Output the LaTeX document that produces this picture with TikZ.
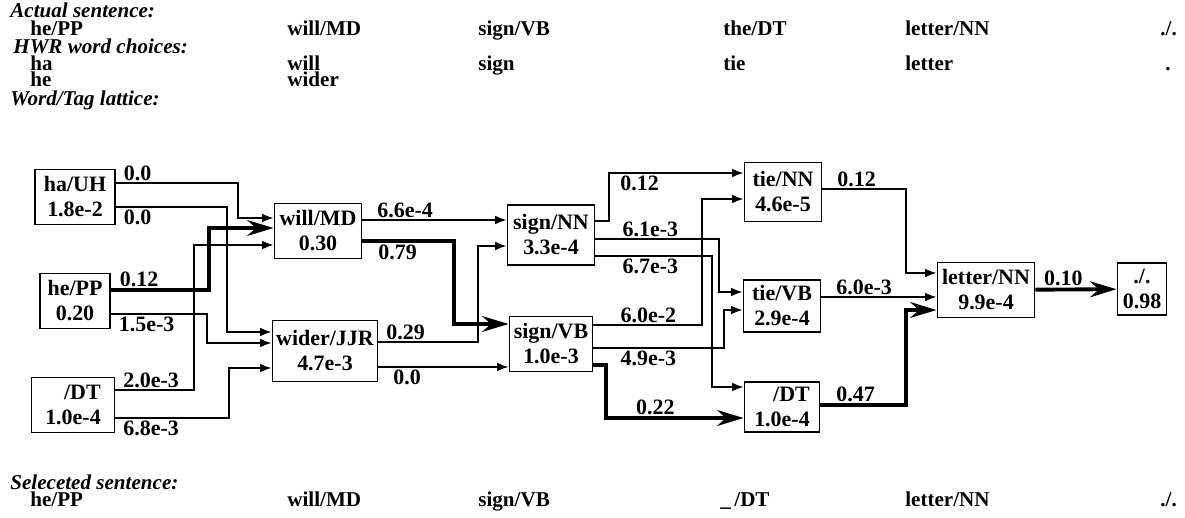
\documentclass[tikz,border=0pt]{standalone}
\usepackage{fontspec}
\setmainfont{Liberation Serif}
\usetikzlibrary{arrows.meta,calc}

\begin{document}
\begin{tikzpicture}[
    x=0.02cm, y=-0.02cm,
    font=\fontsize{12.5}{14.2}\selectfont\bfseries,
    tagbox/.style={
        draw,
        line width=1.1pt,
        minimum height=1.1cm,
        inner sep=2pt,
        align=center
    },
    pathedge/.style={-{Latex[length=6.5pt,width=5pt]}, line width=1pt},
    bestedge/.style={-{Stealth[length=15pt,width=9pt,inset=5pt]}, line width=2.2pt},
    prob/.style={inner sep=1pt, xshift=3pt},
    head/.style={anchor=base west, inner sep=0pt, font=\fontsize{12}{13}\selectfont\bfseries\itshape},
    word/.style={anchor=base west, inner sep=0pt, font=\fontsize{12}{13}\selectfont\bfseries}
]
\useasboundingbox (0,0) rectangle (1185,517);

% actual sentence and handwriting choices
\node[head] (actHead) at (10,18) {Actual sentence:};
\node[word] (act1) at (30,36) {he/PP};
\node[word] (act2) at (287,36) {will/MD};
\node[word] (act3) at (478,36) {sign/VB};
\node[word] (act4) at (723,36) {the/DT};
\node[word] (act5) at (905,36) {letter/NN};
\node[word] (act6) at (1160,36) {./.};

\node[head] (hwrHead) at (13,54) {HWR word choices:};
\node[word] (hwrA1) at (30,71) {ha};
\node[word] (hwrA2) at (287,71) {will};
\node[word] (hwrA3) at (478,71) {sign};
\node[word] (hwrA4) at (723,71) {tie};
\node[word] (hwrA5) at (905,71) {letter};
\node[word] (hwrA6) at (1165,71) {.};
\node[word] (hwrB1) at (30,87) {he};
\node[word] (hwrB2) at (287,87) {wider};

\node[head] (latHead) at (10,105) {Word/Tag lattice:};

% lattice nodes
\node[tagbox, minimum width=1.6cm] (haUH) at (75,197) {ha/UH\\1.8e-2};
\node[tagbox, minimum width=1.4cm] (hePP) at (75,301) {he/PP\\0.20};
\node[tagbox, minimum width=1.66cm, align=right] (dtA) at (73,405) {/DT\\1.0e-4};
\node[tagbox, minimum width=1.74cm] (willMD) at (318,231) {will/MD\\0.30};
\node[tagbox, minimum width=2.1cm, minimum height=1.22cm] (widerJJR) at (325,351) {wider/JJR\\4.7e-3};
\node[tagbox, minimum width=1.74cm, minimum height=1.2cm] (signNN) at (551,235) {sign/NN\\3.3e-4};
\node[tagbox, minimum width=1.66cm] (signVB) at (551,344) {sign/VB\\1.0e-3};
\node[tagbox, minimum width=1.54cm, minimum height=1.18cm] (tieNN) at (783,192) {tie/NN\\4.6e-5};
\node[tagbox, minimum width=1.54cm, minimum height=1.04cm] (tieVB) at (782,306) {tie/VB\\2.9e-4};
\node[tagbox, minimum width=1.5cm, minimum height=1.0cm, align=right] (dtB) at (782,407) {/DT\\1.0e-4};
\node[tagbox, minimum width=1.94cm, minimum height=1.1cm] (letterNN) at (986,290) {letter/NN\\9.9e-4};
\node[tagbox, minimum width=0.98cm, minimum height=1.04cm] (stop) at (1142,289) {./.\\0.98};

% transitions, first column
\draw[pathedge] ($(haUH.east)+(0,-14)$) node[prob, above right] {0.0}
    -- ++(122,0) |- ($(willMD.west)+(0,-13)$);
\draw[pathedge] ($(haUH.east)+(0,10)$) node[prob, below right] {0.0}
    -- ++(111,0) |- ($(widerJJR.west)+(0,-19)$);
\draw[bestedge] ($(hePP.east)+(0,-11)$) node[prob, above right] {0.12}
    -- ++(98,0) |- ($(willMD.west)+(0,-3)$);
\draw[pathedge] ($(hePP.east)+(0,13)$) node[prob, below right] {1.5e-3}
    -- ++(96,0) |- ($(widerJJR.west)+(0,-8)$);
\draw[pathedge] ($(dtA.east)+(0,-15)$) node[prob, above right] {2.0e-3}
    -- ++(78.5,0) |- ($(willMD.west)+(0,14)$);
\draw[pathedge] ($(dtA.east)+(0,13)$) node[prob, below right] {6.8e-3}
    -- ++(113.5,0) |- ($(widerJJR.west)+(0,17)$);

% second column
\draw[pathedge] ($(willMD.east)+(0,-11)$) node[prob, above right, xshift=4pt] {6.6e-4}
    -- ($(signNN.west)+(0,-15)$);
\draw[bestedge] ($(willMD.east)+(0,10)$) node[prob, below right, xshift=4pt] {0.79}
    -- ++(91.5,0) |- ($(signVB.west)+(0,-20)$);
\draw[pathedge] ($(widerJJR.east)+(0,-9)$) node[prob, above right] {0.29}
    -- ++(99.5,0) |- ($(signNN.west)+(0,11)$);
\draw[pathedge] ($(widerJJR.east)+(0,16)$) node[prob, below right, xshift=4pt] {0.0}
    -- ($(signVB.west)+(0,23)$);

% third column
\draw[pathedge] ($(signNN.east)+(0,-14)$) -- ++(13.5,0)
    |- node[prob, pos=0.5, below right, xshift=2pt] {0.12} ($(tieNN.west)+(0,-19)$);
\draw[pathedge] ($(signNN.east)+(0,4)$) node[prob, above right, xshift=11pt] {6.1e-3}
    -- ++(123.5,0) |- ($(tieVB.west)+(0,-14)$);
\draw[pathedge] ($(signNN.east)+(0,21)$) node[prob, below right, xshift=11pt] {6.7e-3}
    -- ++(116.5,0) |- ($(dtB.west)+(0,-20)$);
\draw[pathedge] ($(signVB.east)+(0,-19)$) node[prob, above right, xshift=11pt] {6.0e-2}
    -- ++(108.5,0) |- ($(tieNN.west)+(0,7)$);
\draw[pathedge] ($(signVB.east)+(0,4)$) node[prob, below right, xshift=11pt] {4.9e-3}
    -- ++(130.5,0) |- ($(tieVB.west)+(0,4)$);
\draw[bestedge] ($(signVB.east)+(0,21)$) -- ++(12.5,0)
    |- node[prob, pos=0.66, above] {0.22} ($(dtB.west)+(0,11)$);

% last column
\draw[pathedge] ($(tieNN.east)+(0,-3)$) node[prob, above right, xshift=4pt] {0.12}
    -- ++(83.5,0) |- ($(letterNN.west)+(0,-17)$);
\draw[pathedge] ($(tieVB.east)+(0,-9)$) node[prob, above right, xshift=4pt] {6.0e-3}
    -- ($(letterNN.west)+(0,7)$);
\draw[bestedge] ($(dtB.east)+(0,-2)$) node[prob, above right, xshift=4pt] {0.47}
    -- ++(85.5,0) |- ($(letterNN.west)+(0,20)$);
\draw[bestedge] (letterNN) -- node[prob, pos=0.28, above] {0.10} (stop);

% selected sentence
\node[head] (selHead) at (10,489) {Seleceted sentence:};
\node[word] (sel1) at (30,506) {he/PP};
\node[word] (sel2) at (287,506) {will/MD};
\node[word] (sel3) at (478,506) {sign/VB};
\node[word] (sel4) at (720,506) {\_\,/DT};
\node[word] (sel5) at (905,506) {letter/NN};
\node[word] (sel6) at (1160,506) {./.};

\end{tikzpicture}
\end{document}
